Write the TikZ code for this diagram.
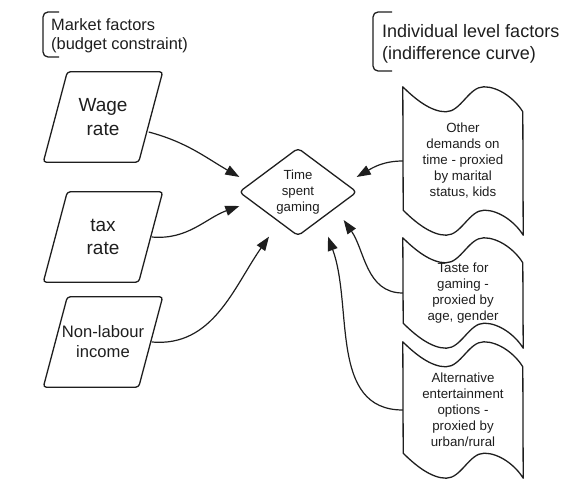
\documentclass[tikz,border=0pt]{standalone}
\usepackage{fontspec}
\setmainfont{Liberation Sans}
\usepackage{tikz}
\usetikzlibrary{arrows.meta, shapes, positioning}
\usepackage{xcolor}
\definecolor{inkgray}{RGB}{30,30,30}
\tikzset{parallelnode/.style={rectangle, minimum width=119pt, minimum height=90pt, inner sep=0pt, align=center, text=inkgray},
parallelline/.style={draw=inkgray, line width=1.3pt, rounded corners=3pt},
diamondnode/.style={diamond, draw=inkgray, line width=1.3pt, rounded corners=4pt, minimum width=118pt, minimum height=88pt, inner sep=0pt, align=center, text=inkgray, font=\fontsize{13.2}{16}\selectfont}}
\tikzset{tapenode/.style={rectangle, minimum width=120pt, inner sep=0pt, align=center, text=inkgray, font=\fontsize{13.3}{16}\selectfont},
tapeline/.style={draw=inkgray, line width=1.3pt, line join=round}}
\newcommand{\tapetop}{.. controls +(12,-12) and +(-15,0) .. ++(43,-25) .. controls +(15,0) and +(-15,0) .. ++(38,25) .. controls +(15,0) and +(-8,13) .. ++(39,-25)}
\newcommand{\tapebottom}{.. controls +(-8,13) and +(15,0) .. ++(-39,25) .. controls +(-15,0) and +(15,0) .. ++(-38,-25) .. controls +(-15,0) and +(12,-12) .. ++(-43,25)}

\begin{document}
\begin{tikzpicture}[
        x=1pt, y=1pt,
        line join=bevel,
        flowarrow/.style={-{Triangle[length=14pt, width=10pt]}, draw=inkgray, line width=1.2pt},
        bracketline/.style={draw=inkgray, line width=1.3pt, rounded corners=5pt}
    ]
        \useasboundingbox (0, 0) rectangle (580, 498);
        % Headings
        \draw[bracketline] (59, 486) -- (43, 486) -- (43, 441) -- (59, 441);
        \node[anchor=west, align=left, inner sep=0pt, text=inkgray, font=\fontsize{16.4}{19}\selectfont] (market) at (51, 462) {Market factors\\(budget constraint)};
        \draw[bracketline] (392, 486) -- (373, 486) -- (373, 427) -- (392, 427);
        \node[anchor=west, align=left, inner sep=0pt, text=inkgray, font=\fontsize{18}{22}\selectfont] (individual) at (382, 454) {Individual level factors\\(indifference curve)};
        % Market nodes
        \node[parallelnode, font=\fontsize{19}{23.5}\selectfont] (wage) at (103, 381) {Wage\\rate};
        \node[parallelnode, font=\fontsize{19}{23.5}\selectfont] (tax) at (103, 261) {tax\\rate};
        \node[parallelnode, font=\fontsize{16.6}{20}\selectfont] (nonlab) at (103, 156) {Non-labour\\income};
        \foreach \n in {wage, tax, nonlab} {
            \draw[parallelline] (\n.south west) -- ([xshift=24pt]\n.north west) -- (\n.north east) -- ([xshift=-24pt]\n.south east) -- cycle;
        }
        % Centre
        \node[diamondnode] (time) at (298, 306) {Time\\spent\\gaming};
        % Individual nodes
        \node[tapenode, minimum height=148pt] (other) at (463, 337) {Other\\demands on\\time - proxied\\by marital\\status, kids};
        \node[tapenode, minimum height=110pt] (taste) at (463, 205) {Taste for\\gaming -\\proxied by\\age, gender};
        \node[tapenode, minimum height=136pt] (alt) at (463, 88) {Alternative\\entertainment\\options -\\proxied by\\urban/rural};
        \foreach \n in {other, taste, alt} {
            \draw[tapeline] (\n.north west) \tapetop -- (\n.south east) \tapebottom -- cycle;
        }
        % Arrows
        \draw[flowarrow] ([shift={(-14,-15)}]wage.east) to[out=-15, in=150] ([shift={(1,15)}]time.west);
        \draw[flowarrow] ([xshift=-11pt]tax.east) to[out=-5, in=200] ([shift={(1,-14)}]time.west);
        \draw[flowarrow] ([xshift=-11pt]nonlab.east) to[out=-5, in=235] ([xshift=-29pt]time.south);
        \draw[flowarrow] (other.west) to[out=180, in=30] ([shift={(-1,15)}]time.east);
        \draw[flowarrow] (taste.west) to[out=180, in=-55] ([shift={(-14,-28)}]time.east);
        \draw[flowarrow] (alt.west) to[out=180, in=-70] ([xshift=30pt]time.south);
    \end{tikzpicture}
\end{document}
